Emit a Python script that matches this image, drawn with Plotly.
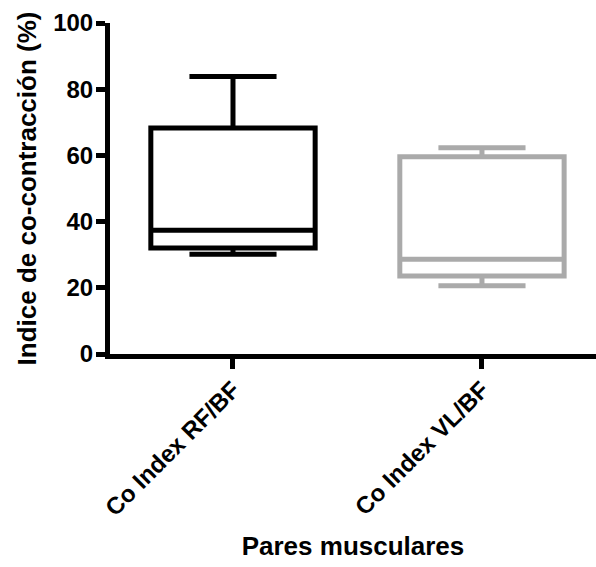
import plotly.graph_objects as go

categories = ["Co Index RF/BF", "Co Index VL/BF"]
q1 = [32.0, 23.6]
median = [37.4, 28.6]
q3 = [68.3, 59.6]
lower = [30.1, 20.6]
upper = [83.8, 62.3]
colors = ["#000000", "#aaaaaa"]

FONT = "Liberation Sans, Arial, sans-serif"

fig = go.Figure()
for i, cat in enumerate(categories):
    fig.add_trace(go.Box(
        x=[cat], q1=[q1[i]], median=[median[i]], q3=[q3[i]],
        lowerfence=[lower[i]], upperfence=[upper[i]],
        width=0.66, whiskerwidth=0.53,
        line=dict(color=colors[i], width=5),
        fillcolor="rgba(255,255,255,0)",
        boxpoints=False, showlegend=False, hoverinfo="skip",
    ))

fig.update_layout(
    width=596, height=567,
    margin=dict(l=110, r=0, t=23, b=213),
    paper_bgcolor="white", plot_bgcolor="white",
    font=dict(family=FONT, color="black", weight="bold"),
)
fig.update_xaxes(
    type="category", range=[-0.494, 1.458],
    showline=True, linewidth=5, linecolor="black",
    ticks="outside", ticklen=10, tickwidth=5, tickcolor="black",
    tickangle=-45, tickfont=dict(size=24, family=FONT, weight="bold"),
    ticklabelstandoff=-3,
    showgrid=False, zeroline=False,
    title=dict(text="Pares musculares", font=dict(size=26, family=FONT, weight="bold"), standoff=18),
)
fig.update_yaxes(
    range=[0, 100], tickvals=[0, 20, 40, 60, 80, 100],
    showline=True, linewidth=5, linecolor="black",
    ticks="outside", ticklen=9, tickwidth=5, tickcolor="black",
    tickfont=dict(size=24, family=FONT, weight="bold"),
    ticklabelstandoff=-2,
    showgrid=False, zeroline=False,
    title=dict(text="Indice de co-contracción (%)", font=dict(size=26, family=FONT, weight="bold"), standoff=11),
)
fig.write_html("out.html")
